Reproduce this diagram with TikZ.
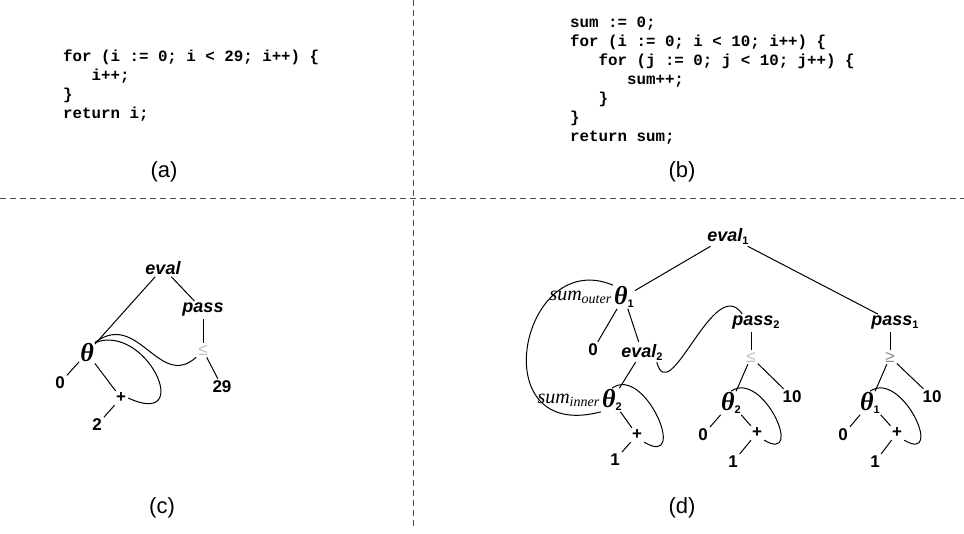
\documentclass[tikz,border=0pt]{standalone}
\usepackage{fontspec}
\setmainfont{Liberation Sans}
\newfontfamily\codefont{Liberation Mono}
\newfontfamily\greekfont{Liberation Serif}
\newcommand{\low}[1]{\raisebox{-3pt}{\fontsize{11}{11}\selectfont\normalfont\bfseries #1}}
\begin{document}
\begin{tikzpicture}[x=1pt,y=-1pt]
  %
  \tikzstyle{lbl} = [font=\fontsize{18}{18}\selectfont\bfseries\itshape, inner sep=2pt]
  \tikzstyle{num} = [font=\fontsize{17}{17}\selectfont\bfseries, inner sep=2pt]
  \tikzstyle{phi} = [font=\fontsize{26}{26}\selectfont\greekfont\bfseries\itshape, inner sep=1pt]
  \tikzstyle{cmp} = [font=\fontsize{17}{17}\selectfont, text=black!25, inner sep=2pt]
  \tikzstyle{var} = [font=\fontsize{20}{20}\selectfont\greekfont\itshape, inner sep=1pt]
  \tikzstyle{code} = [font=\fontsize{15.8}{19}\selectfont\codefont\bfseries, align=left, anchor=north west, inner sep=0pt]
  \tikzstyle{caption} = [font=\fontsize{22}{22}\selectfont]
  \tikzstyle{link} = [line width=1pt]
  \tikzstyle{sep} = [dash pattern=on 6pt off 4pt, black!70, line width=0.8pt]
  \useasboundingbox (0,0) rectangle (964,533);
  % separators
  \draw[sep] (0,198) -- (964,198);
  \draw[sep] (413,0) -- (413,528);
  % programs
  \node[code] (codeA) at (63,50) {for (i := 0; i < 29; i++) \{\\
    \phantom{xxx}i++;\\
    \}\\
    return i;};
  \node[code] (codeB) at (570,17) {sum := 0;\\
    for (i := 0; i < 10; i++) \{\\
    \phantom{xxx}for (j := 0; j < 10; j++) \{\\
    \phantom{xxxxxx}sum++;\\
    \phantom{xxx}\}\\
    \}\\
    return sum;};
  \node[caption] (capA) at (164,172) {(a)};
  \node[caption] (capB) at (682,172) {(b)};
  \node[caption] (capC) at (162,508) {(c)};
  \node[caption] (capD) at (682,508) {(d)};
  % graph (c)
  \node[lbl] (evalC) at (163,268) {eval};
  \node[lbl] (passC) at (203,310) {pass};
  \node[cmp] (cmpC) at (203,350) {≤};
  \node[num] (n29) at (222,387) {29};
  \node[phi] (thC) at (87,353) {θ};
  \node[num] (zC) at (60,383) {0};
  \node[num] (plC) at (121,398) {+};
  \node[num] (twoC) at (97,425) {2};
  \draw[link] (evalC) -- (thC);
  \draw[link] (evalC) -- (passC);
  \draw[link] (passC) -- (cmpC);
  \draw[link] (cmpC) -- (n29);
  \draw[link] (thC) -- (zC);
  \draw[link] (thC) -- (plC);
  \draw[link] (plC) -- (twoC);
  \draw[link] (thC.north east) .. controls +(43,-33) and +(-37,33) .. (cmpC.south west);
  \draw[link] (thC.north east) .. controls +(52,-20) and +(67,31) .. (plC.east);
  % graph (d)
  \node[lbl] (evalA) at (728,236) {eval\low{1}};
  \node[phi] (thA) at (624,297) {θ\low{1}};
  \node[var, anchor=east] (sumO) at (thA.west) {sum\textsubscript{outer}};
  \node[num] (zA) at (593,350) {0};
  \node[lbl] (evalB) at (642,352) {eval\low{2}};
  \node[phi] (thB) at (612,400) {θ\low{2}};
  \node[var, anchor=east] (sumI) at (thB.west) {sum\textsubscript{inner}};
  \node[num] (plB) at (637,435) {+};
  \node[num] (oneB) at (615,460) {1};
  \node[lbl] (passB) at (756,323) {pass\low{2}};
  \node[cmp] (cmpB) at (751,357) {≤};
  \node[num] (tenB) at (792,397) {10};
  \node[phi] (thD) at (731,403) {θ\low{2}};
  \node[num] (zD) at (703,435) {0};
  \node[num] (plD) at (757,433) {+};
  \node[num] (oneD) at (733,462) {1};
  \node[lbl] (passA) at (895,323) {pass\low{1}};
  \node[cmp, text=black!45] (cmpA) at (890,357) {≥};
  \node[num] (tenA) at (932,397) {10};
  \node[phi] (thE) at (870,403) {θ\low{1}};
  \node[num] (zE) at (843,435) {0};
  \node[num] (plE) at (897,433) {+};
  \node[num] (oneE) at (875,462) {1};
  \draw[link] (evalA) -- (thA);
  \draw[link] (evalA) -- (passA);
  \draw[link] (thA) -- (zA);
  \draw[link] (thA) -- (evalB);
  \draw[link] (evalB) -- (thB);
  \draw[link] (thB) -- (plB);
  \draw[link] (plB) -- (oneB);
  \draw[link] (cmpB.north) -- (cmpB.north |- passB.south);
  \draw[link] (cmpB) -- (thD);
  \draw[link] (cmpB) -- (tenB);
  \draw[link] (thD) -- (zD);
  \draw[link] (thD) -- (plD);
  \draw[link] (plD) -- (oneD);
  \draw[link] (cmpA.north) -- (cmpA.north |- passA.south);
  \draw[link] (cmpA) -- (thE);
  \draw[link] (cmpA) -- (tenA);
  \draw[link] (thE) -- (zE);
  \draw[link] (thE) -- (plE);
  \draw[link] (plE) -- (oneE);
  % back edges
  \draw[link] (thA.north west) .. controls +(-92,-39) and +(-120,32) .. (thB.south west);
  \draw[link] ([xshift=-8pt]evalB.south east) .. controls +(13,48) and +(-28,-42) .. ([xshift=12pt]passB.north west);
  \draw[link] (thB.north) .. controls +(33,-24) and +(45,27) .. (plB.south east);
  \draw[link] (thD.north) .. controls +(32,-22) and +(41,24) .. (plD.south east);
  \draw[link] (thE.north) .. controls +(32,-22) and +(41,24) .. (plE.south east);
\end{tikzpicture}
\end{document}
